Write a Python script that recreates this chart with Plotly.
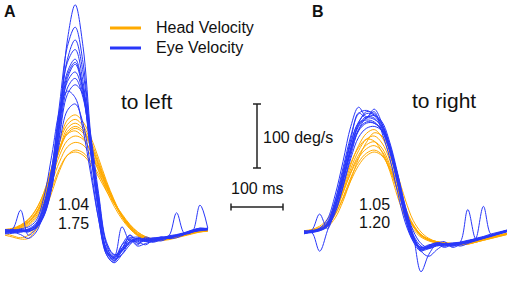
import plotly.graph_objects as go

# ---------------- data ----------------
# time samples (ms) for each panel
TIME_MS = [0, 15, 30, 45, 60, 75, 90, 105, 120, 135, 150, 165, 180, 195,
           210, 225, 240, 255, 270, 285, 300, 315, 330, 345, 360, 375, 390]

# Panel A (to left): head velocity traces (deg/s)
A_HEAD = [
    [2, 4, 8, 16, 30, 58, 100, 142, 175, 183, 172, 148, 115, 80, 50, 25, 8, -4, -10, -12, -12, -10, -7, -4, -1, 2, 3],
    [3, 5, 9, 17, 31, 56, 94, 131, 162, 170, 161, 137, 105, 73, 45, 23, 6, -5, -11, -12, -12, -9, -6, -3, 0, 3, 4],
    [1, 3, 7, 14, 28, 52, 90, 128, 157, 165, 158, 136, 106, 76, 48, 26, 9, -3, -9, -11, -12, -10, -8, -5, -2, 1, 2],
    [4, 6, 11, 20, 36, 62, 100, 133, 153, 158, 148, 125, 95, 65, 40, 20, 5, -6, -12, -14, -13, -11, -8, -5, -2, 2, 3],
    [2, 3, 6, 12, 25, 48, 84, 120, 143, 150, 145, 126, 100, 72, 46, 24, 8, -4, -10, -12, -12, -10, -7, -4, -1, 2, 3],
    [0, 1, 4, 10, 22, 44, 78, 110, 133, 140, 136, 120, 97, 70, 46, 26, 10, -2, -8, -11, -12, -10, -8, -5, -2, 1, 2],
    [-5, -8, -11, -10, 4, 28, 62, 96, 120, 128, 124, 110, 90, 68, 46, 28, 12, 0, -8, -12, -13, -12, -9, -6, -3, 0, 1],
    [-2, -6, -9, -5, 10, 34, 68, 100, 120, 125, 120, 106, 86, 64, 44, 26, 11, 0, -7, -11, -12, -11, -8, -5, -2, 0, 2],
    [3, 5, 10, 19, 35, 62, 102, 140, 168, 176, 166, 142, 110, 77, 48, 24, 7, -5, -11, -13, -12, -10, -7, -4, -1, 2, 3],
    [2, 4, 8, 15, 29, 54, 92, 128, 154, 162, 155, 133, 103, 73, 46, 24, 8, -4, -10, -12, -12, -10, -7, -4, -1, 2, 3],
]

# Panel A (to left): eye velocity traces (deg/s)
A_EYE = [
    [2, 0, 3, 2, 6, 25, 70, 170, 300, 355, 290, 150, 40, -30, -45, -30, -18, -12, -14, -10, -8, -10, -6, -2, 2, 6, 4],
    [0, 2, 1, 4, 10, 35, 85, 180, 270, 300, 250, 140, 45, -28, -40, -28, -15, -10, -12, -14, -10, -6, -4, -1, 3, 5, 6],
    [-3, -2, 0, 3, 12, 40, 95, 190, 265, 285, 235, 130, 40, -25, -38, -25, -8, -20, -8, -12, -14, -9, -5, -2, 1, 4, 5],
    [3, 4, 2, 5, 14, 45, 100, 185, 250, 270, 225, 135, 50, -20, -42, -35, -20, -10, -14, -16, -12, -8, -6, -3, 0, 3, 4],
    [1, -1, 2, 4, 10, 38, 90, 170, 235, 250, 215, 125, 35, -35, -48, -35, -16, -14, -10, -12, -11, -9, -7, -4, 2, 4, 5],
    [-2, 0, 3, 1, 8, 28, 70, 150, 215, 230, 215, 150, 60, -15, -35, -30, -12, -22, -18, -14, -10, -8, -5, -3, 0, 2, 3],
    [4, 2, 5, 8, 18, 55, 120, 190, 220, 210, 160, 90, 20, -30, -38, 8, -14, -12, -15, -12, -9, -7, -5, -2, 1, 3, 4],
    [0, 5, 34, -5, 6, 30, 80, 165, 240, 262, 220, 120, 30, -30, -40, -20, -10, -8, -12, -10, -9, -10, -6, -2, 3, 6, 5],
    [2, 0, -4, -10, 0, 32, 85, 175, 245, 265, 225, 130, 38, -28, -44, -30, -15, -10, -14, -12, -8, -6, 30, -2, 0, 42, 6],
    [1, 3, 2, 0, 9, 30, 75, 140, 190, 200, 170, 100, 20, -35, -47, -20, -5, -14, -20, -12, -8, -10, -9, -4, 0, 3, 4],
    [1, 2, 4, 3, 12, 42, 100, 200, 290, 320, 265, 140, 35, -32, -42, -26, -12, -16, -12, -9, -11, -8, -5, -2, 2, 4, 5],
    [-1, 1, 0, 2, 7, 26, 72, 155, 225, 240, 210, 135, 55, -18, -36, -28, -5, -18, -13, -15, -12, -9, -6, -3, 0, 3, 4],
]

# Panel B (to right): head velocity traces (deg/s)
B_HEAD = [
    [1, 2, 6, 14, 35, 68, 105, 135, 154, 160, 148, 120, 78, 38, 12, -4, -12, -16, -17, -19, -20, -19, -16, -12, -9, -6, -3],
    [0, 2, 5, 13, 33, 64, 99, 127, 145, 150, 139, 112, 72, 35, 10, -5, -12, -16, -18, -19, -20, -18, -15, -12, -9, -6, -3],
    [0, 2, 5, 12, 31, 61, 94, 120, 136, 141, 131, 105, 66, 31, 9, -5, -12, -16, -17, -19, -20, -19, -16, -12, -9, -6, -3],
    [2, 3, 7, 15, 34, 62, 92, 116, 130, 135, 126, 101, 64, 30, 8, -6, -13, -17, -18, -19, -19, -17, -15, -11, -8, -5, -2],
    [-1, 1, 4, 10, 27, 54, 85, 109, 123, 128, 121, 98, 64, 31, 9, -5, -12, -15, -17, -18, -19, -18, -15, -12, -9, -6, -3],
    [1, 2, 5, 11, 28, 52, 80, 104, 119, 125, 119, 98, 66, 33, 11, -4, -11, -15, -17, -18, -19, -18, -16, -13, -10, -7, -4],
    [2, 4, 9, 20, 42, 75, 108, 132, 145, 142, 125, 95, 55, 22, 4, -8, -14, -17, -18, -19, -19, -17, -14, -11, -8, -5, -2],
    [0, 1, 3, 8, 22, 48, 82, 115, 140, 155, 150, 128, 90, 50, 18, 0, -10, -15, -17, -18, -19, -18, -16, -13, -10, -7, -4],
]

# Panel B (to right): eye velocity traces (deg/s)
B_EYE = [
    [-2, 0, 3, 14, 48, 95, 145, 186, 178, 192, 170, 132, 80, 26, -10, -26, -24, -20, -22, -19, -17, -16, -12, -9, -6, -2, 2],
    [-2, 0, 3, 12, 42, 84, 131, 167, 180, 178, 162, 128, 78, 27, -9, -25, -23, -20, -22, -19, -17, -16, -12, -9, -6, -2, 2],
    [1, 2, 4, 10, 36, 78, 128, 170, 188, 185, 168, 135, 85, 30, -8, -28, -26, -18, -20, -21, -18, -14, -10, -7, -3, 0, 3],
    [0, 3, 28, 5, 40, 90, 140, 170, 175, 172, 158, 125, 75, 20, -15, -30, -22, -17, -19, -20, -16, -13, -11, -8, -5, -1, 2],
    [-3, -1, -30, 2, 38, 80, 125, 158, 170, 170, 160, 130, 85, 35, -5, -62, -35, -20, -24, -20, -18, -15, -12, -9, -6, -3, 1],
    [2, 1, 5, 16, 50, 100, 150, 185, 190, 182, 165, 128, 76, 22, -12, -24, -22, -19, -18, -22, -17, -14, -11, -8, -5, -2, 2],
    [-1, 1, 2, 9, 32, 72, 120, 160, 178, 182, 172, 140, 92, 38, -4, -22, -26, -21, -19, -18, -16, 35, -10, 40, -4, -1, 3],
    [1, 0, 3, 11, 40, 82, 128, 160, 172, 170, 158, 126, 80, 28, -10, -28, -21, -17, -20, -22, -19, -17, -14, -10, -7, -3, 1],
    [0, 2, 4, 13, 44, 90, 138, 172, 185, 183, 168, 136, 88, 34, -6, -24, -20, -18, -15, -24, -20, -16, -12, -9, -5, -1, 2],
    [-2, -1, 2, 8, 30, 70, 115, 148, 162, 165, 158, 132, 90, 40, 2, -18, -25, -22, -20, -18, -17, -15, -13, -10, -6, -3, 0],
    [0, 2, 6, 20, 58, 110, 165, 195, 180, 188, 155, 115, 62, 14, -14, -27, -24, -20, -19, -17, -16, -14, -11, -8, -5, -2, 1],
    [1, 2, 4, 12, 40, 85, 132, 165, 178, 176, 164, 134, 86, 32, -8, -30, -38, -28, -20, -18, -22, -18, -13, -10, -6, -2, 2],
]

GAINS_A = ["1.04", "1.75"]
GAINS_B = ["1.05", "1.20"]
SCALE_MS = 100
SCALE_DEG = 100

# ---------------- styling / layout ----------------
W, H = 510, 296
ORANGE = "rgb(255,170,0)"
BLUE = "rgb(40,55,250)"
FONT = "Liberation Sans, Arial, Helvetica, sans-serif"

PX_PER_MS = 0.52          # 100 ms = 52 px
DEG_PER_PX = 1.5625       # 100 deg/s = 64 px
X0_PX = 5                 # panel A start pixel
B_OFFSET = 575            # ms offset of panel B along the shared axis
BASE_PY = 232             # baseline pixel row (0 deg/s)

x_range = [-X0_PX / PX_PER_MS, (W - X0_PX) / PX_PER_MS]
y_range = [-(H - BASE_PY) * DEG_PER_PX, BASE_PY * DEG_PER_PX]

fig = go.Figure()


def add_traces(series, offset, color):
    xs = [t + offset for t in TIME_MS]
    for vals in series:
        fig.add_trace(go.Scatter(x=xs, y=vals, mode="lines",
                                 line=dict(color=color, width=1, shape="spline", smoothing=1.0),
                                 hoverinfo="skip", showlegend=False))


add_traces(A_HEAD, 0, ORANGE)
add_traces(B_HEAD, B_OFFSET, ORANGE)
add_traces(A_EYE, 0, BLUE)
add_traces(B_EYE, B_OFFSET, BLUE)


def sx(px):
    """pixel column -> axis value (ms)"""
    return (px - X0_PX) / PX_PER_MS


def sy(py):
    """pixel row -> axis value (deg/s)"""
    return (BASE_PY - py) * DEG_PER_PX


# scale bars (data coordinates)
sb_x = sx(257)
sb_y0 = sy(168)
sb_y1 = sb_y0 + SCALE_DEG
hb_y = sy(207)
hb_x0 = sx(231)
hb_x1 = hb_x0 + SCALE_MS
cap_x = 4 / PX_PER_MS
cap_y = 3.5 * DEG_PER_PX
bar = dict(color="#222222", width=1.5)


def pxp(px):
    return px / W


def pyp(py):
    return 1 - py / H


shapes = [
    dict(type="line", xref="x", yref="y", x0=sb_x, x1=sb_x, y0=sb_y0, y1=sb_y1, line=bar),
    dict(type="line", xref="x", yref="y", x0=sb_x - cap_x, x1=sb_x + cap_x, y0=sb_y0, y1=sb_y0, line=bar),
    dict(type="line", xref="x", yref="y", x0=sb_x - cap_x, x1=sb_x + cap_x, y0=sb_y1, y1=sb_y1, line=bar),
    dict(type="line", xref="x", yref="y", x0=hb_x0, x1=hb_x1, y0=hb_y, y1=hb_y, line=bar),
    dict(type="line", xref="x", yref="y", x0=hb_x0, x1=hb_x0, y0=hb_y - cap_y, y1=hb_y + cap_y, line=bar),
    dict(type="line", xref="x", yref="y", x0=hb_x1, x1=hb_x1, y0=hb_y - cap_y, y1=hb_y + cap_y, line=bar),
    # legend swatches
    dict(type="line", xref="paper", yref="paper", x0=pxp(110), x1=pxp(141),
         y0=pyp(28), y1=pyp(28), line=dict(color=ORANGE, width=3)),
    dict(type="line", xref="paper", yref="paper", x0=pxp(110), x1=pxp(141),
         y0=pyp(48), y1=pyp(48), line=dict(color=BLUE, width=3)),
]


def ann(text, px, py, size, xanchor="center", bold=False):
    return dict(text=f"<b>{text}</b>" if bold else text, x=pxp(px), y=pyp(py),
                xref="paper", yref="paper", xanchor=xanchor, yanchor="middle",
                showarrow=False, font=dict(family=FONT, size=size, color="#111111"))


annotations = [
    ann("A", 10, 11, 16, bold=True),
    ann("B", 318, 11, 16, bold=True),
    ann("Head Velocity", 154, 27, 16, xanchor="left"),
    ann("Eye Velocity", 154, 47, 16, xanchor="left"),
    ann("to left", 147, 101, 21),
    ann("to right", 444, 100, 21),
    ann(GAINS_A[0], 73, 204, 16),
    ann(GAINS_A[1], 73, 223, 16),
    ann(GAINS_B[0], 374, 204, 16),
    ann(GAINS_B[1], 374, 222, 16),
    ann(f"{SCALE_DEG} deg/s", 261, 137, 16, xanchor="left"),
    ann(f"{SCALE_MS} ms", 257, 188, 16),
]

fig.update_layout(
    width=W, height=H, margin=dict(l=0, r=0, t=0, b=0),
    paper_bgcolor="white", plot_bgcolor="white", showlegend=False,
    xaxis=dict(range=x_range, visible=False, fixedrange=True),
    yaxis=dict(range=y_range, visible=False, fixedrange=True),
    shapes=shapes, annotations=annotations,
)

# remove the browser's default page margin so the figure sits at the window's corner
fig.write_html("out.html", config={"displayModeBar": False},
               post_script="document.body.style.margin='0';")
